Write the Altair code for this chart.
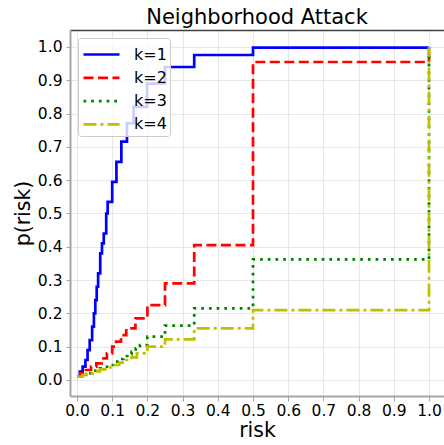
import altair as alt
import pandas as pd

# ---- data (step-after CDFs) ----
k1_risk = [0.0, 0.008, 0.016, 0.024, 0.03, 0.036, 0.043, 0.048, 0.052, 0.056, 0.06, 0.066,
           0.071, 0.076, 0.083, 0.087, 0.1, 0.112, 0.126, 0.142, 0.161, 0.199, 0.25, 0.333, 0.5, 1.0]
k1_p = [0.01, 0.025, 0.04, 0.06, 0.09, 0.12, 0.16, 0.2, 0.24, 0.28, 0.32, 0.38,
        0.41, 0.44, 0.5, 0.535, 0.595, 0.655, 0.716, 0.771, 0.82, 0.89, 0.94, 0.976, 0.998, 1.0]

k2_risk = [0.0, 0.01, 0.025, 0.04, 0.055, 0.07, 0.085, 0.1, 0.111, 0.125, 0.14, 0.166,
           0.2, 0.25, 0.333, 0.5, 1.0]
k2_p = [0.01, 0.02, 0.03, 0.04, 0.05, 0.065, 0.08, 0.1, 0.115, 0.135, 0.155, 0.185,
        0.225, 0.29, 0.405, 0.955, 1.0]

k3_risk = [0.0, 0.015, 0.03, 0.045, 0.065, 0.085, 0.103, 0.118, 0.132, 0.143, 0.155, 0.167,
           0.179, 0.2, 0.25, 0.333, 0.5, 1.0]
k3_p = [0.01, 0.015, 0.02, 0.028, 0.035, 0.045, 0.055, 0.063, 0.072, 0.078, 0.085, 0.095,
        0.105, 0.13, 0.163, 0.215, 0.362, 1.0]

k4_risk = [0.0, 0.015, 0.027, 0.045, 0.065, 0.085, 0.103, 0.12, 0.141, 0.155, 0.17, 0.2,
           0.25, 0.333, 0.5, 1.0]
k4_p = [0.01, 0.015, 0.02, 0.026, 0.032, 0.038, 0.045, 0.052, 0.06, 0.068, 0.08, 0.1,
        0.122, 0.155, 0.21, 1.0]

series_names = ["k=1", "k=2", "k=3", "k=4"]
series_colors = ["#0000ff", "#ff0000", "#008000", "#bfbf00"]
series_dashes = [[1, 0], [10, 4.5], [2.7, 5], [13, 4, 3, 4]]
tick_values = [0.0, 0.1, 0.2, 0.3, 0.4, 0.5, 0.6, 0.7, 0.8, 0.9, 1.0]

rows = []
for name, xs, ys in zip(series_names, [k1_risk, k2_risk, k3_risk, k4_risk],
                        [k1_p, k2_p, k3_p, k4_p]):
    for i, (x, y) in enumerate(zip(xs, ys)):
        rows.append({"k": name, "risk": x, "p": y, "order": i})
df = pd.DataFrame(rows)

FONT = "DejaVu Sans"
x_dom = [-0.01989, 1.0426]
y_dom = [-0.04805, 1.05105]


def axis(title, tick_size, label_pad, title_pad):
    return alt.Axis(values=tick_values, format=".1f", title=title,
                    titleFontSize=20.5, titleFont=FONT, titleFontWeight="normal",
                    titleColor="black", titlePadding=title_pad,
                    labelFontSize=15.5, labelFont=FONT, labelColor="black",
                    labelPadding=label_pad, tickSize=tick_size, tickColor="#a6a6a6",
                    tickWidth=1, domainColor="#a6a6a6", domainWidth=2,
                    grid=True, gridColor="#e6e6e6", gridWidth=1,
                    labelFlush=False, labelOverlap=False)


legend = alt.Legend(orient="none", legendX=8, legendY=8, title=None,
                    symbolType="M-1.5,0H1.5", symbolSize=576, symbolStrokeWidth=2.7,
                    labelFontSize=16, labelFont=FONT, labelColor="black",
                    padding=3, rowPadding=1.3, symbolOffset=7, labelOffset=19,
                    fillColor="rgba(255,255,255,0.8)", strokeColor="#cccccc",
                    cornerRadius=3)

lines = alt.Chart(df).mark_line(interpolate="step-after", strokeWidth=2.7, clip=True).encode(
    x=alt.X("risk:Q", scale=alt.Scale(domain=x_dom, nice=False, zero=False),
            axis=axis("risk", 5, 2, 2)),
    y=alt.Y("p:Q", scale=alt.Scale(domain=y_dom, nice=False, zero=False),
            axis=axis("p(risk)", 4, 4, 4)),
    order="order:Q",
    color=alt.Color("k:N", scale=alt.Scale(domain=series_names, range=series_colors),
                    legend=legend),
    strokeDash=alt.StrokeDash("k:N", scale=alt.Scale(domain=series_names, range=series_dashes),
                              legend=legend),
)

top_frame = alt.Chart(df).mark_line(opacity=0).encode(
    x=alt.X("risk:Q", scale=alt.Scale(domain=x_dom, nice=False, zero=False),
            axis=alt.Axis(orient="top", labels=False, ticks=False, grid=False, title=None,
                          domainColor="#404040", domainWidth=1.5)),
    y=alt.Y("p:Q", scale=alt.Scale(domain=y_dom, nice=False, zero=False), axis=None),
    detail="k:N",
)

chart = alt.layer(lines, top_frame).resolve_axis(x="independent", y="independent").properties(
    width=374, height=366,
    autosize=alt.AutoSizeParams(type="none"),
    padding={"left": 70, "top": 30, "right": 0, "bottom": 49},
    title=alt.TitleParams("Neighborhood Attack", fontSize=21, font=FONT,
                          fontWeight="normal", color="black", offset=2),
).configure_view(stroke=None)

chart.save("out.html", embed_options={"renderer": "svg", "actions": False})
